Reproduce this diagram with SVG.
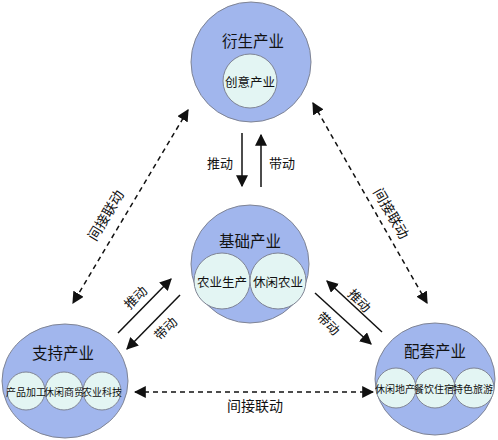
<svg xmlns="http://www.w3.org/2000/svg" width="498" height="440" viewBox="0 0 498 440">
<defs>
<style>
.big{fill:#a1b6ed;stroke:#7f8494;stroke-width:1}
.in{fill:#e3f5f3;stroke:#7f8494;stroke-width:1}
text{font-family:"Noto Sans CJK SC","Noto Sans",sans-serif;fill:#111;text-anchor:middle;dominant-baseline:central}
.t1{font-size:15.5px}
.t2{font-size:12.5px}
.t3{font-size:10px}
.lb{font-size:13px}
.sol{stroke:#111;stroke-width:1.5;fill:none}
.dsh{stroke:#111;stroke-width:1.5;fill:none;stroke-dasharray:5 4}
</style>
<marker id="ah" viewBox="0 0 10 10" refX="9" refY="5" markerWidth="12" markerHeight="12" markerUnits="userSpaceOnUse" orient="auto-start-reverse">
<path d="M0,0 L10,5 L0,10 Z" fill="#111"/>
</marker>
</defs>
<g id="connectors">
<line class="sol" x1="242" y1="133" x2="242" y2="186" marker-end="url(#ah)"/>
<line class="sol" x1="261" y1="187" x2="261" y2="135" marker-end="url(#ah)"/>
<line class="sol" x1="118" y1="333" x2="171" y2="279" marker-end="url(#ah)"/>
<line class="sol" x1="180" y1="295" x2="127" y2="349" marker-end="url(#ah)"/>
<line class="sol" x1="382" y1="332" x2="327" y2="281" marker-end="url(#ah)"/>
<line class="sol" x1="315" y1="293" x2="371" y2="344" marker-end="url(#ah)"/>
<line class="dsh" x1="188" y1="110" x2="73" y2="303" marker-start="url(#ah)" marker-end="url(#ah)"/>
<line class="dsh" x1="313" y1="103" x2="427" y2="303" marker-start="url(#ah)" marker-end="url(#ah)"/>
<line class="dsh" x1="135" y1="392" x2="373" y2="392" marker-start="url(#ah)" marker-end="url(#ah)"/>
<text class="lb" x="220" y="162">推动</text>
<text class="lb" x="282" y="162">带动</text>
<text class="lb" transform="translate(135 297) rotate(-45)">推动</text>
<text class="lb" transform="translate(165 328) rotate(-45)">带动</text>
<text class="lb" transform="translate(360 300) rotate(45)">推动</text>
<text class="lb" transform="translate(329 323) rotate(45)">带动</text>
<text class="lb" transform="translate(105 215) rotate(-59)" style="font-size:14px">间接联动</text>
<text class="lb" transform="translate(392 213) rotate(60)" style="font-size:14px">间接联动</text>
<text class="lb" x="255" y="405" style="font-size:14px">间接联动</text>
</g>
<g id="derived">
<circle class="big" cx="251" cy="62" r="60"/>
<text class="t1" x="253" y="40">衍生产业</text>
<g id="creative">
<circle class="in" cx="250" cy="81" r="27"/>
<text class="t2" x="250" y="81">创意产业</text>
</g>
</g>
<g id="basic">
<circle class="big" cx="250" cy="264" r="59"/>
<text class="t1" x="250" y="240">基础产业</text>
<g id="agri-prod">
<circle class="in" cx="222" cy="281" r="28"/>
<text class="t2" x="222" y="281">农业生产</text>
</g>
<g id="leisure-agri">
<circle class="in" cx="278" cy="281" r="28"/>
<text class="t2" x="278" y="281">休闲农业</text>
</g>
</g>
<g id="support">
<ellipse class="big" cx="65" cy="381" rx="63" ry="57"/>
<text class="t1" x="63" y="352">支持产业</text>
<g id="processing">
<circle class="in" cx="26" cy="391" r="19"/>
<text class="t3" x="26" y="391">产品加工</text>
</g>
<g id="commerce">
<circle class="in" cx="64" cy="391" r="19"/>
<text class="t3" x="64" y="391">休闲商贸</text>
</g>
<g id="agritech">
<circle class="in" cx="102" cy="391" r="19"/>
<text class="t3" x="102" y="391">农业科技</text>
</g>
</g>
<g id="supporting">
<ellipse class="big" cx="435" cy="379" rx="60" ry="56"/>
<text class="t1" x="435" y="350">配套产业</text>
<g id="realestate">
<circle class="in" cx="396" cy="388" r="20"/>
<text class="t3" x="395" y="388">休闲地产</text>
</g>
<g id="catering">
<circle class="in" cx="435" cy="388" r="20"/>
<text class="t3" x="434" y="388">餐饮住宿</text>
</g>
<g id="tourism">
<circle class="in" cx="474" cy="388" r="20"/>
<text class="t3" x="473" y="388">特色旅游</text>
</g>
</g>
</svg>
